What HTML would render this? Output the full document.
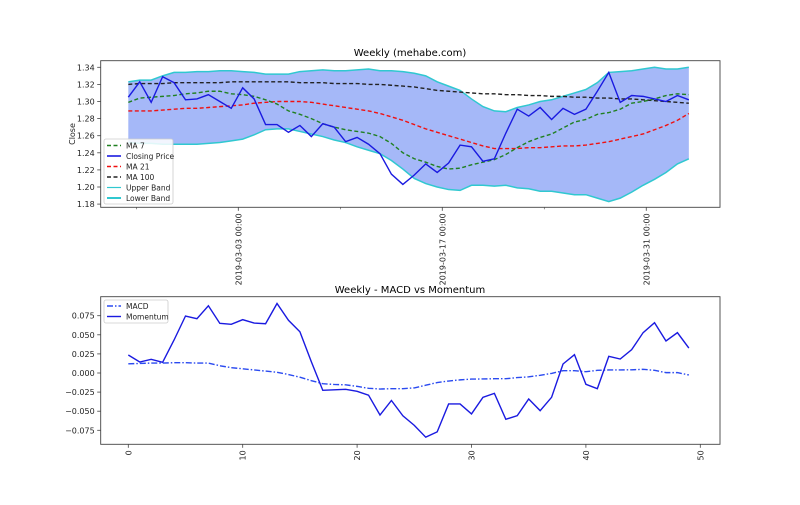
<!DOCTYPE html>
<html><head><meta charset="utf-8"><style>
body{margin:0;background:#fff;}
svg{font-family:"DejaVu Sans","Liberation Sans",sans-serif;}
</style></head><body>
<svg id="chart" width="800" height="500" viewBox="0 0 800 500" xmlns="http://www.w3.org/2000/svg"></svg>
<script>
const closePrice=[1.305,1.323,1.299,1.329,1.322,1.302,1.303,1.308,1.300,1.292,1.316,1.303,1.273,1.273,1.264,1.272,1.259,1.274,1.270,1.253,1.258,1.250,1.239,1.215,1.203,1.214,1.227,1.217,1.228,1.249,1.247,1.230,1.233,1.263,1.291,1.283,1.293,1.279,1.292,1.285,1.291,1.312,1.334,1.299,1.307,1.306,1.303,1.300,1.307,1.302];
const ma7=[1.299,1.304,1.305,1.306,1.307,1.309,1.310,1.312,1.312,1.309,1.308,1.306,1.302,1.297,1.289,1.285,1.280,1.274,1.270,1.267,1.265,1.263,1.259,1.251,1.240,1.233,1.229,1.224,1.221,1.222,1.226,1.229,1.232,1.238,1.246,1.253,1.258,1.262,1.269,1.276,1.279,1.285,1.287,1.291,1.298,1.300,1.303,1.307,1.309,1.308];
const ma21=[1.289,1.289,1.289,1.290,1.291,1.292,1.292,1.293,1.294,1.295,1.296,1.298,1.299,1.300,1.300,1.300,1.299,1.297,1.295,1.293,1.291,1.289,1.286,1.282,1.278,1.273,1.268,1.264,1.260,1.256,1.252,1.248,1.245,1.245,1.245,1.246,1.246,1.247,1.248,1.248,1.249,1.251,1.253,1.256,1.259,1.262,1.267,1.272,1.278,1.286];
const ma100=[1.320,1.321,1.321,1.321,1.322,1.322,1.322,1.322,1.322,1.323,1.323,1.323,1.323,1.323,1.323,1.322,1.322,1.322,1.321,1.321,1.321,1.320,1.320,1.319,1.318,1.317,1.315,1.313,1.312,1.311,1.310,1.309,1.309,1.308,1.308,1.307,1.307,1.306,1.306,1.305,1.305,1.304,1.304,1.303,1.303,1.302,1.301,1.300,1.299,1.298];
const upperBand=[1.323,1.325,1.325,1.330,1.334,1.334,1.335,1.335,1.336,1.336,1.335,1.334,1.332,1.332,1.332,1.335,1.336,1.337,1.336,1.336,1.337,1.338,1.336,1.336,1.335,1.333,1.330,1.323,1.318,1.313,1.303,1.294,1.289,1.288,1.293,1.296,1.300,1.302,1.306,1.310,1.314,1.322,1.334,1.335,1.336,1.338,1.340,1.338,1.338,1.340];
const lowerBand=[1.252,1.251,1.251,1.250,1.250,1.250,1.250,1.251,1.252,1.254,1.256,1.261,1.267,1.268,1.268,1.265,1.262,1.259,1.255,1.252,1.247,1.243,1.239,1.231,1.221,1.210,1.204,1.200,1.197,1.196,1.202,1.202,1.201,1.202,1.199,1.198,1.195,1.195,1.193,1.191,1.191,1.187,1.183,1.187,1.194,1.202,1.209,1.217,1.227,1.233];
const macd=[0.012,0.0125,0.013,0.013,0.0135,0.0135,0.013,0.013,0.0095,0.007,0.0055,0.004,0.0025,0.001,-0.002,-0.0055,-0.010,-0.014,-0.015,-0.0155,-0.0175,-0.020,-0.021,-0.0205,-0.0205,-0.0195,-0.016,-0.0125,-0.0105,-0.009,-0.008,-0.0078,-0.0075,-0.0075,-0.006,-0.005,-0.003,-0.0005,0.003,0.003,0.0017,0.0035,0.004,0.004,0.0042,0.0048,0.0035,0.0005,0.0005,-0.0026];
const momentum=[0.0236,0.0144,0.0179,0.0140,0.0432,0.0746,0.0711,0.088,0.065,0.0637,0.0698,0.0654,0.0645,0.091,0.069,0.054,0.0148,-0.0227,-0.022,-0.0214,-0.024,-0.029,-0.055,-0.036,-0.056,-0.0685,-0.084,-0.077,-0.0405,-0.0405,-0.0536,-0.0318,-0.0266,-0.0606,-0.0558,-0.034,-0.0493,-0.0318,0.0118,0.024,-0.0148,-0.0205,0.0218,0.0183,0.0305,0.0528,0.0658,0.0419,0.0528,0.0327];
const topYTicks=[1.18,1.20,1.22,1.24,1.26,1.28,1.30,1.32,1.34];
const dateTickDays=[0,14,28];
const dateTickLabels=["2019-03-03 00:00","2019-03-17 00:00","2019-03-31 00:00"];
const minorDateDays=[-7,7,21];
const botYTicks=[-0.075,-0.050,-0.025,0.000,0.025,0.050,0.075];
const botXTicks=[0,10,20,30,40,50];

const NS="http://www.w3.org/2000/svg";
const svg=document.getElementById('chart');
function mk(tag,attrs,parent){const e=document.createElementNS(NS,tag);for(const k in attrs)e.setAttribute(k,attrs[k]);(parent||svg).appendChild(e);return e;}
// scales
const xi=i=>128.3+11.44*i;
const yTop=v=>67.3+(1.34-v)/0.02*17.1;
const xDay=d=>238.3+d*14.57;
const yBot=v=>315.7+(0.075-v)/0.15*114.6;
function pts(arr,fy){return arr.map((v,i)=>xi(i).toFixed(2)+','+fy(v).toFixed(2)).join(' ');}

// ===== top panel =====
const T={l:100.7,r:720,t:60.7,b:207.3};
let t=mk('text',{x:410,y:56,'text-anchor':'middle','font-size':10,fill:'#000'});
t.textContent='Weekly (mehabe.com)';


// band fill
let fillPts=upperBand.map((v,i)=>xi(i)+','+yTop(v)).concat(lowerBand.map((v,i)=>xi(i)+','+yTop(v)).reverse()).join(' ');
let f=mk('polygon',{points:fillPts,fill:'#a5b8f8',stroke:'none'});


let ub=mk('polyline',{points:pts(upperBand,yTop),fill:'none',stroke:'#30c8d0','stroke-width':1.5});


let lb=mk('polyline',{points:pts(lowerBand,yTop),fill:'none',stroke:'#30c8d0','stroke-width':1.5});


let m100=mk('polyline',{points:pts(ma100,yTop),fill:'none',stroke:'#222','stroke-width':1.4,'stroke-dasharray':'4,2.5'});


let m21=mk('polyline',{points:pts(ma21,yTop),fill:'none',stroke:'#f01010','stroke-width':1.4,'stroke-dasharray':'4,2.5'});


let m7=mk('polyline',{points:pts(ma7,yTop),fill:'none',stroke:'#208020','stroke-width':1.4,'stroke-dasharray':'4,2.5'});


let cp=mk('polyline',{points:pts(closePrice,yTop),fill:'none',stroke:'#1a1ae0','stroke-width':1.4});


let fr=mk('rect',{x:T.l,y:T.t,width:T.r-T.l,height:T.b-T.t,fill:'none',stroke:'#444','stroke-width':0.9});


topYTicks.forEach(v=>{
  const y=yTop(v);
  mk('line',{x1:T.l-3.5,x2:T.l,y1:y,y2:y,stroke:'#444','stroke-width':0.8});
  const l=mk('text',{x:T.l-6,y:y+3,'text-anchor':'end','font-size':8,fill:'#222'});
  l.textContent=v.toFixed(2);
  
  
});
dateTickDays.forEach((d,k)=>{
  const x=xDay(d);
  mk('line',{x1:x,x2:x,y1:T.b,y2:T.b+3.5,stroke:'#444','stroke-width':0.8});
  const l=mk('text',{x:0,y:0,'text-anchor':'end','font-size':8,fill:'#222',transform:`translate(${x+3},${T.b+6}) rotate(-90)`});
  l.textContent=dateTickLabels[k];
  
  
});
minorDateDays.forEach(d=>{const x=xDay(d);mk('line',{x1:x,x2:x,y1:T.b,y2:T.b+2,stroke:'#444','stroke-width':0.6});});
let yl=mk('text',{x:0,y:0,'text-anchor':'middle','font-size':8,fill:'#222',transform:'translate(75,134) rotate(-90)'});
yl.textContent='Close';


// top legend
const lg=mk('g',{});


mk('rect',{x:104,y:139,width:69,height:65,fill:'#fff','fill-opacity':0.85,stroke:'#ccc','stroke-width':0.8,rx:2},lg);
const items=[['MA 7','#208020','4,2.5',1.4],['Closing Price','#1a1ae0','',1.6],['MA 21','#f01010','4,2.5',1.4],['MA 100','#222','4,2.5',1.4],['Upper Band','#30c8d0','',1.2],['Lower Band','#30c8d0','',2]];
items.forEach((it,k)=>{
  const y=145.5+k*10.5;
  const ln=mk('line',{x1:107,x2:121,y1:y,y2:y,stroke:it[1],'stroke-width':it[3]},lg);
  if(it[2])ln.setAttribute('stroke-dasharray',it[2]);
  const tx=mk('text',{x:126,y:y+3,'font-size':7.5,fill:'#222'},lg);
  tx.textContent=it[0];
  
  
});

// ===== bottom panel =====
const B={l:100.7,r:720,t:296.7,b:444.3};
t=mk('text',{x:410,y:293,'text-anchor':'middle','font-size':10,fill:'#000'});
t.textContent='Weekly - MACD vs Momentum';


let mc=mk('polyline',{points:pts(macd,yBot),fill:'none',stroke:'#2a4af0','stroke-width':1.4,'stroke-dasharray':'6,2,1.5,2'});


let mo=mk('polyline',{points:pts(momentum,yBot),fill:'none',stroke:'#1a1ae0','stroke-width':1.4});


fr=mk('rect',{x:B.l,y:B.t,width:B.r-B.l,height:B.b-B.t,fill:'none',stroke:'#444','stroke-width':0.9});


botYTicks.forEach(v=>{
  const y=yBot(v);
  mk('line',{x1:B.l-3.5,x2:B.l,y1:y,y2:y,stroke:'#444','stroke-width':0.8});
  const l=mk('text',{x:B.l-6,y:y+3,'text-anchor':'end','font-size':8,fill:'#222'});
  l.textContent=(v<0?'\u2212':'')+Math.abs(v).toFixed(3);
  
  
});
botXTicks.forEach(v=>{
  const x=xi(v);
  mk('line',{x1:x,x2:x,y1:B.b,y2:B.b+3.5,stroke:'#444','stroke-width':0.8});
  const l=mk('text',{x:0,y:0,'text-anchor':'end','font-size':8,fill:'#222',transform:`translate(${x+3},${B.b+6}) rotate(-90)`});
  l.textContent=String(v);
  
  
});
const lg2=mk('g',{});


mk('rect',{x:104,y:300,width:64,height:23,fill:'#fff','fill-opacity':0.85,stroke:'#ccc','stroke-width':0.8,rx:2},lg2);
[['MACD','#2a4af0','6,2,1.5,2'],['Momentum','#1a1ae0','']].forEach((it,k)=>{
  const y=306+k*10.5;
  const ln=mk('line',{x1:107,x2:121,y1:y,y2:y,stroke:it[1],'stroke-width':1.4},lg2);
  if(it[2])ln.setAttribute('stroke-dasharray',it[2]);
  const tx=mk('text',{x:126,y:y+3,'font-size':7.5,fill:'#222'},lg2);
  tx.textContent=it[0];
  
  
});
</script>
</body></html>
